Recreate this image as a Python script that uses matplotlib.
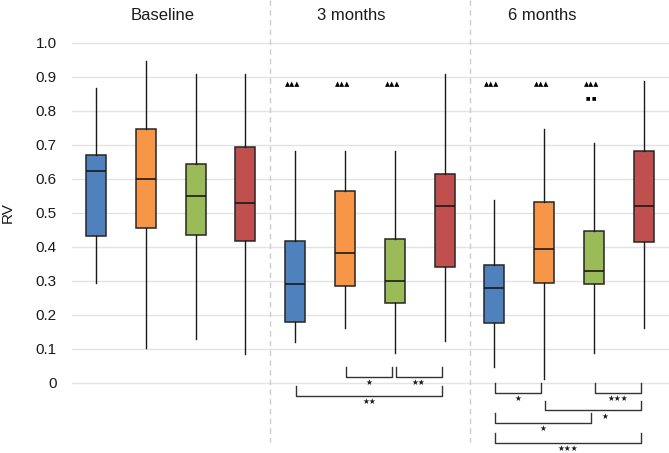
import matplotlib
matplotlib.use('Agg')
import matplotlib.pyplot as plt

# RV values (per box: whisker low, Q1, median, Q3, whisker high)
groups = ['Baseline', '3 months', '6 months']
colors = ['#4F81BD', '#F79646', '#9BBB59', '#C0504D']

whis_lo = [0.294, 0.103, 0.128, 0.084,
           0.120, 0.163, 0.087, 0.124,
           0.048, 0.011, 0.087, 0.163]
q1 = [0.432, 0.456, 0.436, 0.416,
      0.180, 0.286, 0.236, 0.342,
      0.177, 0.295, 0.290, 0.415]
median = [0.624, 0.601, 0.550, 0.529,
          0.291, 0.383, 0.300, 0.519,
          0.278, 0.393, 0.330, 0.519]
q3 = [0.671, 0.748, 0.644, 0.694,
      0.416, 0.565, 0.422, 0.613,
      0.348, 0.531, 0.446, 0.682]
whis_hi = [0.868, 0.947, 0.908, 0.908,
           0.683, 0.683, 0.683, 0.908,
           0.538, 0.746, 0.705, 0.888]

# markers above boxes (box index, symbols, y)
marks = [(4, '▲▲▲', 0.880), (5, '▲▲▲', 0.880), (6, '▲▲▲', 0.880),
         (8, '▲▲▲', 0.880), (9, '▲▲▲', 0.880), (10, '▲▲▲', 0.880),
         (10, '■ ■', 0.838)]

# significance brackets (box a, box b, top y, label, label shift)
brackets = [(5, 6, 0.046, '★', 0.0), (6, 7, 0.046, '★★', 0.0),
            (4, 7, -0.009, '★★', 0.0),
            (8, 9, -0.001, '★', 0.0), (10, 11, -0.001, '★★★', 0.0),
            (9, 11, -0.052, '★', 0.24), (8, 10, -0.089, '★', 0.0),
            (8, 11, -0.148, '★★★', 0.0)]

title_x = [1.345, 5.13, 8.96]

fig = plt.figure(figsize=(6.69, 4.53), dpi=100)
ax = fig.add_axes([72 / 669, 0, 597 / 669, 1])

stats = []
for i in range(12):
    stats.append(dict(whislo=whis_lo[i], q1=q1[i], med=median[i], q3=q3[i],
                      whishi=whis_hi[i], fliers=[]))
positions = list(range(12))
bp = ax.bxp(stats, positions=positions, widths=0.4, showcaps=False, showfliers=False,
            patch_artist=True,
            boxprops=dict(edgecolor='#262626', linewidth=1.1),
            medianprops=dict(color='#1a1a1a', linewidth=1.2),
            whiskerprops=dict(color='#1a1a1a', linewidth=1.0))
for i, box in enumerate(bp['boxes']):
    box.set_facecolor(colors[i % 4])
    box.set_zorder(3)
for art in bp['whiskers'] + bp['medians']:
    art.set_zorder(3)

ax.set_xlim(-0.482, 11.506)
ax.set_ylim(-0.206, 1.126)

# gridlines and separators
for v in [i / 10 for i in range(11)]:
    ax.axhline(v, color='#e3e3e3', linewidth=1.0, zorder=0)
for sx in [3.5, 7.5]:
    ax.plot([sx, sx], [1.126, -0.174], color='#cccccc', linewidth=1.0,
            linestyle=(0, (4, 3)), zorder=0)

ax.set_yticks([i / 10 for i in range(11)])
ax.set_yticklabels(['0'] + ['%.1f' % (i / 10) for i in range(1, 11)],
                   fontsize=11, family='Liberation Sans', color='#1a1a1a')
ax.tick_params(axis='y', length=0, pad=11)
ax.set_xticks([])
for s in ax.spines.values():
    s.set_visible(False)

fig.text(8 / 669, 1 - 213 / 453, 'RV', rotation=90, ha='center', va='center',
         fontsize=11, family='Liberation Sans', color='#1a1a1a')

for g, tx in zip(groups, title_x):
    ax.text(tx, 1.081, g, ha='center', va='center', fontsize=12,
            family='Liberation Sans', color='#1a1a1a')

for i, s, y in marks:
    size = 4.8 if s.startswith('▲') else 3.4
    ax.text(i - 0.05, y, s, ha='center', va='center', fontsize=size,
            family='DejaVu Sans', color='black')

drop = 0.028
for a, b, top, lab, shift in brackets:
    xa, xb = a + 0.02, b - 0.06
    ax.plot([xa, xa, xb, xb], [top, top - drop, top - drop, top],
            color='#333333', linewidth=1.0, zorder=2)
    ax.text((xa + xb) / 2 + shift, top - drop - 0.018, lab, ha='center',
            va='center', fontsize=5.5, family='DejaVu Sans', color='#1a1a1a')

fig.savefig('out.png', dpi=100)
